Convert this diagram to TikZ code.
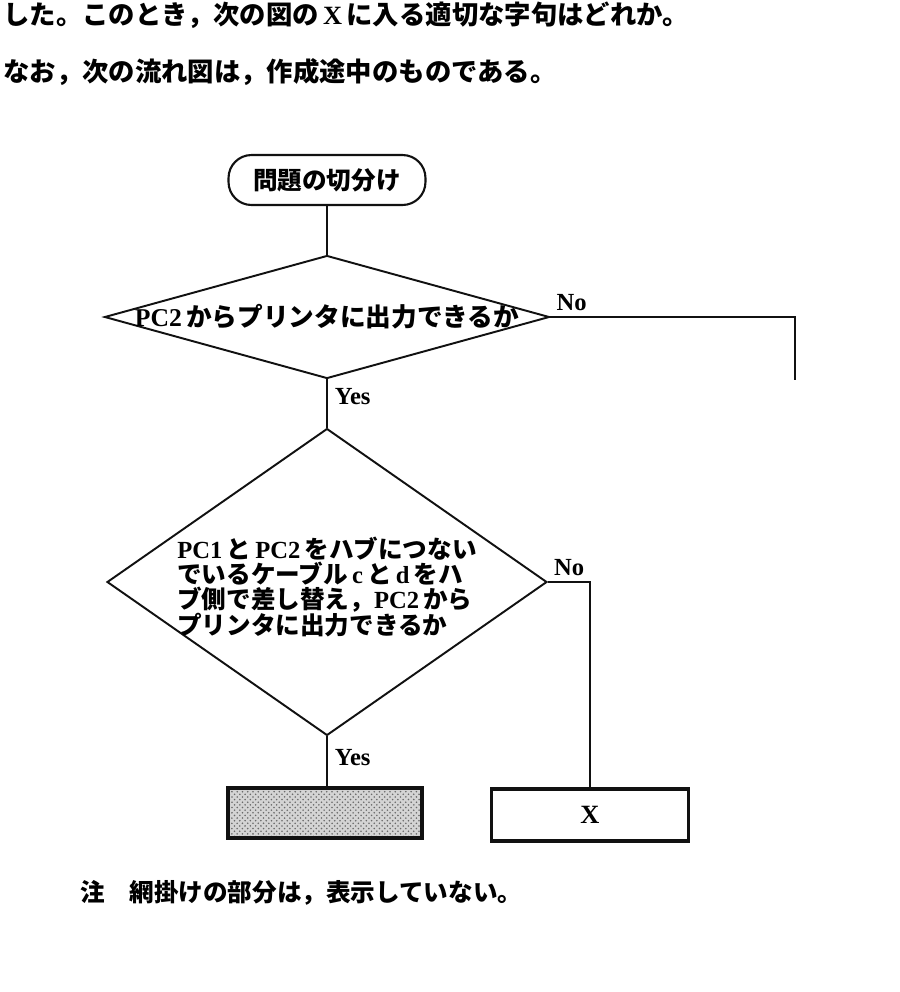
\documentclass[tikz,border=0pt]{standalone}
\usepackage{fontspec}
\setmainfont{Noto Sans CJK JP}
\newfontfamily\latf{Liberation Serif}
\usepackage{tikz}
\usetikzlibrary{shapes.geometric, positioning, calc, patterns}
\definecolor{ink}{HTML}{111111}
\definecolor{screen}{HTML}{D4D4D4}
\definecolor{grain}{HTML}{6A6A6A}
\tikzset{
  term/.style={rectangle, rounded corners=0.46cm, draw=ink, line width=1.2pt,
    minimum width=3.94cm, minimum height=1.0cm, inner sep=2pt,
    font=\bfseries\fontsize{14}{16}\selectfont},
  dec/.style={diamond, draw=ink, line width=1.1pt, inner sep=0pt},
  qtxt/.style={font=\bfseries\fontsize{14}{13}\selectfont, align=left, inner sep=0pt},
  proc/.style={rectangle, draw=ink, line width=2.2pt, minimum width=3.94cm,
    minimum height=1.04cm, inner sep=2pt, font=\latf\bfseries\fontsize{15}{17}\selectfont},
  ln/.style={draw=ink, line width=1.1pt},
  lb/.style={font=\latf\bfseries\fontsize{14}{16}\selectfont, inner sep=1pt},
  txt/.style={anchor=west, inner sep=0pt, font=\bfseries\fontsize{15}{18}\selectfont},
}
\newcommand{\Lt}[1]{{\latf #1}}

\begin{document}
\begin{tikzpicture}[x=0.02cm, y=-0.02cm]
\useasboundingbox (0,0) rectangle (900,992);

\node[txt] (L1) at (3,15) {した。このとき，次の図の\,\Lt{X}\,に入る適切な字句はどれか。};
\node[txt] (L2) at (3,72) {なお，次の流れ図は，作成途中のものである。};

\node[term] (T) at (327,180) {問題の切分け};
\node[dec, minimum width=8.9cm, minimum height=2.46cm,
      label={[qtxt, font=\bfseries\fontsize{14.6}{15}\selectfont]center:{\Lt{PC2}\,からプリンタに出力できるか}}] (Q1) at (327,317) {};
\node[dec, minimum width=8.8cm, minimum height=6.14cm,
      label={[qtxt, yshift=-0.1cm]center:{\Lt{PC1}\,と\,\Lt{PC2}\,をハブにつない\\
        でいるケーブル\,\Lt{c}\,と\,\Lt{d}\,をハ\\
        ブ側で差し替え，\Lt{PC2}\,から\\
        プリンタに出力できるか}}] (Q2) at (327,582) {};
\node[proc, preaction={fill=screen}, pattern=crosshatch dots, pattern color=grain,
      minimum width=3.88cm, minimum height=1.0cm] (S) at (325,813) {};
\node[proc] (X) at (590,815) {X};
\coordinate (C1) at (795,317);
\coordinate (NOEND) at (795,380);

\node[txt, font=\bfseries\fontsize{14}{16}\selectfont] (NOTE) at (80,893) {注　網掛けの部分は，表示していない。};

% connectors
\draw[ln] (T.south) -- (Q1.north);
\draw[ln] (Q1.east) -- node[lb, pos=0, above right=2pt and 2pt]{No} (C1) -- (NOEND);
\draw[ln] (Q1.south) -- node[lb, right=3pt, pos=0.36]{Yes} (Q2.north);
\draw[ln] (Q2.east) -- node[lb, pos=0, above right=2pt and 2pt]{No} (Q2.east -| X.north) -- (X.north);
\draw[ln] (Q2.south) -- node[lb, right=3pt, pos=0.43]{Yes} (Q2.south |- S.north);
\end{tikzpicture}
\end{document}
